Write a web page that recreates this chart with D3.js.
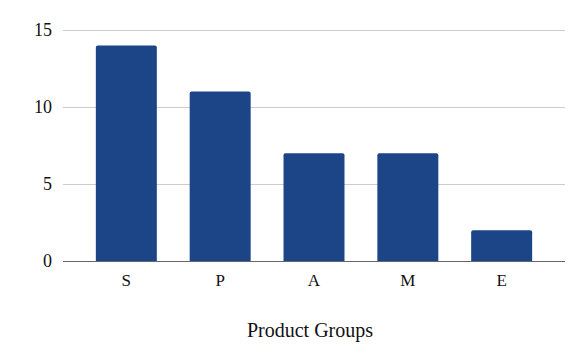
<!DOCTYPE html>
<html>
<head>
<meta charset="utf-8">
<script src="https://cdn.jsdelivr.net/npm/d3@7"></script>
<style>
  body { margin: 0; background: #fff; }
  svg text { font-family: "Liberation Serif", "DejaVu Serif", serif; fill: #111; }
</style>
</head>
<body>
<svg id="chart" width="584" height="361"></svg>
<script>
// chart values
var groups = ['S', 'P', 'A', 'M', 'E'];
var counts = [14, 11, 7, 7, 2];
var yTicks = [0, 5, 10, 15];
var xTitle = 'Product Groups';

var plotLeft = 63, plotRight = 565;
var plotTop = 30, plotBottom = 261;

var svg = d3.select('#chart');

var x = d3.scaleBand()
    .domain(groups)
    .range([plotLeft, plotRight])
    .paddingInner(0.35)
    .paddingOuter(0.35);

var y = d3.scaleLinear()
    .domain([0, 15])
    .range([plotBottom, plotTop]);

// gridlines
svg.append('g')
    .selectAll('line')
    .data(yTicks.filter(function (d) { return d > 0; }))
    .enter()
    .append('line')
    .attr('x1', plotLeft)
    .attr('x2', plotRight)
    .attr('y1', function (d) { return y(d) + 0.5; })
    .attr('y2', function (d) { return y(d) + 0.5; })
    .attr('stroke', '#cccccc')
    .attr('stroke-width', 1);

// y labels
svg.append('g')
    .selectAll('text')
    .data(yTicks)
    .enter()
    .append('text')
    .attr('x', 52)
    .attr('y', function (d) { return y(d); })
    .attr('dy', '0.36em')
    .attr('text-anchor', 'end')
    .style('font-size', '18px')
    .text(function (d) { return d; });

// bars
var data = groups.map(function (g, i) { return { group: g, value: counts[i] }; });

svg.append('g')
    .selectAll('path')
    .data(data)
    .enter()
    .append('path')
    .attr('fill', '#1c4587')
    .attr('d', function (d) {
        var x0 = x(d.group), w = x.bandwidth();
        var y0 = y(d.value), y1 = y(0), r = 2;
        return 'M' + x0 + ',' + y1 +
            'V' + (y0 + r) +
            'Q' + x0 + ',' + y0 + ' ' + (x0 + r) + ',' + y0 +
            'H' + (x0 + w - r) +
            'Q' + (x0 + w) + ',' + y0 + ' ' + (x0 + w) + ',' + (y0 + r) +
            'V' + y1 + 'Z';
    });

// baseline
svg.append('line')
    .attr('x1', plotLeft)
    .attr('x2', plotRight)
    .attr('y1', y(0) + 0.5)
    .attr('y2', y(0) + 0.5)
    .attr('stroke', '#666666')
    .attr('stroke-width', 1);

// x labels
svg.append('g')
    .selectAll('text')
    .data(groups)
    .enter()
    .append('text')
    .attr('x', function (d) { return x(d) + x.bandwidth() / 2; })
    .attr('y', 286)
    .attr('text-anchor', 'middle')
    .style('font-size', '17px')
    .text(function (d) { return d; });

// axis title
svg.append('text')
    .attr('x', 310)
    .attr('y', 337)
    .attr('text-anchor', 'middle')
    .style('font-size', '20px')
    .text(xTitle);
</script>
</body>
</html>
